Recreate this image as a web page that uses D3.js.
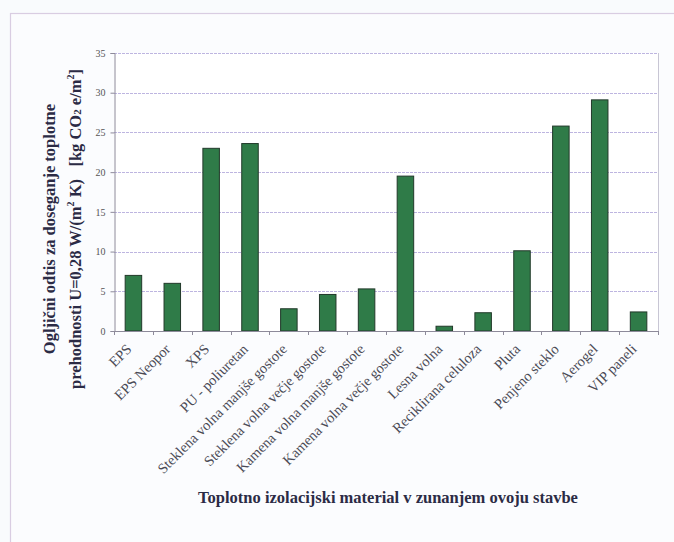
<!DOCTYPE html>
<html>
<head>
<meta charset="utf-8">
<script src="https://cdn.jsdelivr.net/npm/d3@7"></script>
<style>
  html, body { margin: 0; padding: 0; background: #f9fbfd; }
  svg { display: block; }
</style>
</head>
<body>
<svg id="chart" width="674" height="542"></svg>
<script>
// Carbon footprint of insulation materials needed to reach U = 0.28 W/(m²K)
const categories = [
  "EPS", "EPS Neopor", "XPS", "PU - poliuretan",
  "Steklena volna manjše gostote", "Steklena volna večje gostote",
  "Kamena volna manjše gostote", "Kamena volna večje gostote",
  "Lesna volna", "Reciklirana celuloza", "Pluta", "Penjeno steklo",
  "Aerogel", "VIP paneli"
];
const values = [7.0, 6.0, 23.0, 23.6, 2.8, 4.6, 5.3, 19.5, 0.6, 2.3, 10.1, 25.8, 29.1, 2.4];
const yTicks = [0, 5, 10, 15, 20, 25, 30, 35];

const svg = d3.select("#chart");
const serif = "'Liberation Serif', 'Times New Roman', serif";

// outer frame
svg.append("rect")
  .attr("x", 10.5).attr("y", 13.5)
  .attr("width", 720).attr("height", 600)
  .attr("fill", "#fbfcfe")
  .attr("stroke", "#d9cde2").attr("stroke-width", 1.2);

const plot = { left: 114, right: 658, top: 53, bottom: 331 };

const x = d3.scaleBand()
  .domain(categories)
  .range([plot.left, plot.right])
  .paddingInner(0.575)
  .paddingOuter(0.2875);

const y = d3.scaleLinear().domain([0, 35]).range([plot.bottom, plot.top]);

// plot background
svg.append("rect")
  .attr("x", plot.left).attr("y", plot.top)
  .attr("width", plot.right - plot.left).attr("height", plot.bottom - plot.top)
  .attr("fill", "#ffffff");

// horizontal gridlines
svg.append("g")
  .selectAll("line")
  .data(yTicks.filter(d => d > 0))
  .join("line")
  .attr("x1", plot.left).attr("x2", plot.right)
  .attr("y1", d => Math.round(y(d)) + 0.5).attr("y2", d => Math.round(y(d)) + 0.5)
  .attr("stroke", "#bdb5e0").attr("stroke-width", 1)
  .attr("stroke-dasharray", "3,1");

// right border of plot
svg.append("line")
  .attr("x1", plot.right + 0.5).attr("x2", plot.right + 0.5)
  .attr("y1", plot.top).attr("y2", plot.bottom)
  .attr("stroke", "#c8c6d4");

// bars
svg.append("g")
  .selectAll("rect")
  .data(values)
  .join("rect")
  .attr("x", (d, i) => x(categories[i]))
  .attr("y", d => y(d))
  .attr("width", x.bandwidth())
  .attr("height", d => y(0) - y(d))
  .attr("fill", "#2f7b48")
  .attr("stroke", "#22392a").attr("stroke-width", 1);

// y axis
const yAxis = d3.axisLeft(y).tickValues(yTicks).tickSize(4).tickPadding(5);
const gy = svg.append("g")
  .attr("transform", `translate(${plot.left + 0.5},0)`)
  .call(yAxis);
gy.select(".domain").attr("stroke", "#8d8a9a");
gy.selectAll(".tick line").attr("stroke", "#8d8a9a");
gy.selectAll(".tick text")
  .attr("font-family", serif).attr("font-size", 10)
  .attr("fill", "#555");

// x axis: ticks at band boundaries
const boundaries = d3.range(categories.length + 1).map(i => plot.left + i * (plot.right - plot.left) / categories.length);
const gx = svg.append("g");
gx.append("line")
  .attr("x1", plot.left).attr("x2", plot.right)
  .attr("y1", plot.bottom + 0.5).attr("y2", plot.bottom + 0.5)
  .attr("stroke", "#8d8a9a");
gx.selectAll("line.tk")
  .data(boundaries)
  .join("line")
  .attr("class", "tk")
  .attr("x1", d => Math.round(d) + 0.5).attr("x2", d => Math.round(d) + 0.5)
  .attr("y1", plot.bottom).attr("y2", plot.bottom + 4)
  .attr("stroke", "#8d8a9a");

// rotated category labels
gx.selectAll("text")
  .data(categories)
  .join("text")
  .attr("transform", d => {
    const cx = x(d) + x.bandwidth() / 2;
    return `translate(${cx - 1},${plot.bottom + 19}) rotate(-45)`;
  })
  .attr("text-anchor", "end")
  .attr("font-family", serif).attr("font-size", 14.5)
  .attr("fill", "#4a4a55")
  .text(d => d);

// y axis title (two lines)
const yTitle = svg.append("text")
  .attr("transform", "translate(55,229) rotate(-90)")
  .attr("text-anchor", "middle")
  .attr("font-family", serif).attr("font-weight", "bold").attr("font-size", 16.5)
  .attr("fill", "#2b2b45")
  .style("white-space", "pre");
yTitle.append("tspan").attr("x", 0).attr("dy", 0).text("Ogljični odtis za doseganje toplotne");
const l2 = yTitle.append("tspan").attr("x", 0).attr("dy", 26);
l2.append("tspan").text("prehodnosti U=0,28 W/(m");
l2.append("tspan").attr("font-size", 10).attr("dy", -7).text("2");
l2.append("tspan").attr("dy", 7).text(" K)\u00a0\u00a0 [kg CO");
l2.append("tspan").attr("font-size", 11).attr("dy", 0).text("2");
l2.append("tspan").attr("dy", 0).text(" e/m");
l2.append("tspan").attr("font-size", 10).attr("dy", -7).text("2");
l2.append("tspan").attr("dy", 7).text("]");

// x axis title
svg.append("text")
  .attr("x", 388).attr("y", 503)
  .attr("text-anchor", "middle")
  .attr("font-family", serif).attr("font-weight", "bold").attr("font-size", 16.5)
  .attr("fill", "#2b2b45")
  .text("Toplotno izolacijski material v zunanjem ovoju stavbe");
</script>
</body>
</html>
